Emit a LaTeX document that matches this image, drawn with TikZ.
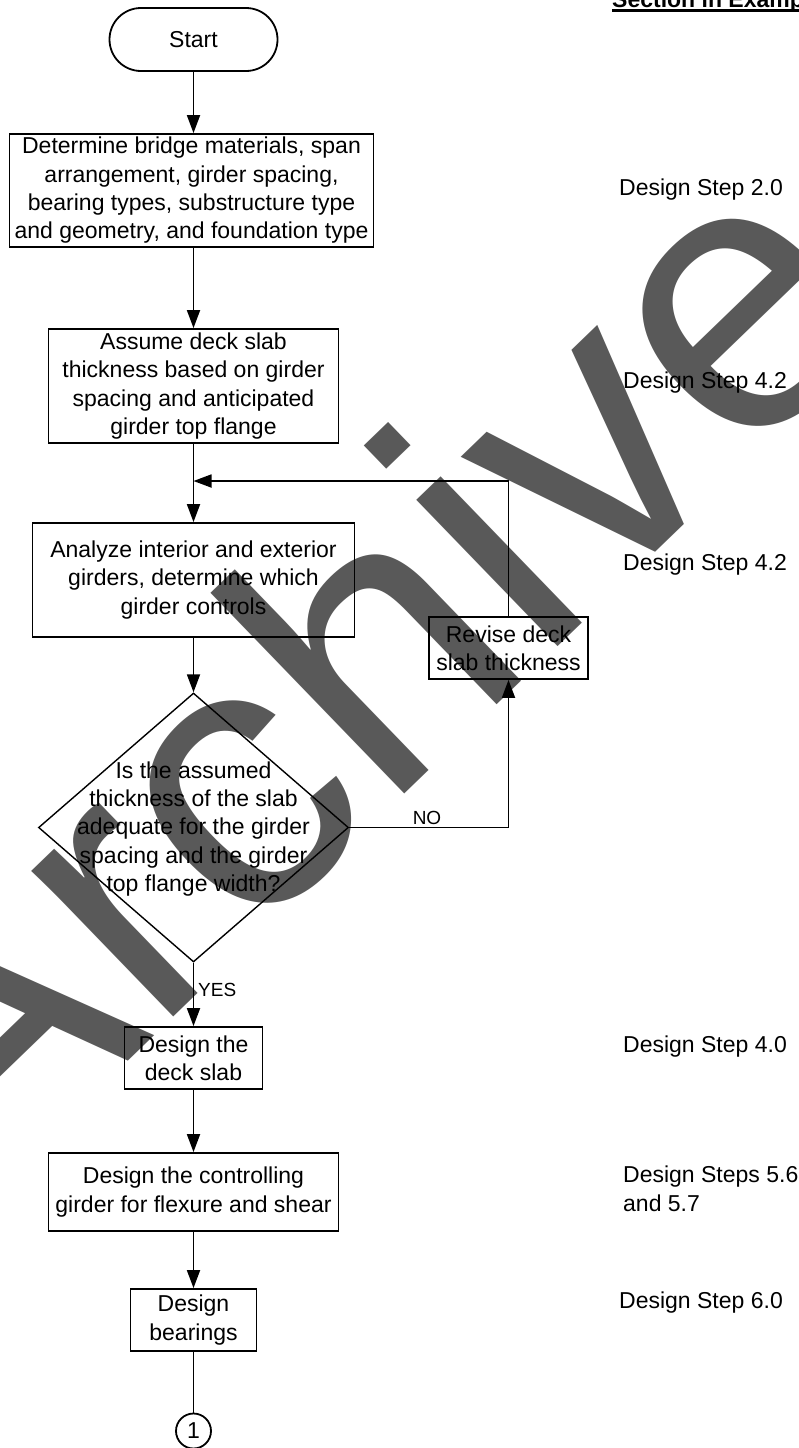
\documentclass[tikz,border=0pt]{standalone}
\usepackage{fontspec}
\setmainfont{Liberation Sans}
\usetikzlibrary{arrows.meta,shapes.misc,shapes.geometric}
\definecolor{wm}{RGB}{89,89,89}
\begin{document}
\begin{tikzpicture}[x=1pt,y=-1pt,
  txt/.style={font=\fontsize{23}{28.3}\selectfont},
  box/.style={draw, line width=1.8pt, align=center, inner sep=0pt, txt},
  conn/.style={line width=1.8pt},
  arr/.style={conn, -{Triangle[length=18pt,width=13pt]}},
  steplabel/.style={anchor=west, inner sep=0pt, align=left, txt},
  smalllab/.style={font=\fontsize{19}{22}\selectfont, inner sep=0pt}]
\useasboundingbox (0,0) rectangle (799,1448);
\fill[white] (0,0) rectangle (799,1448);
\begin{scope}
\clip (0,0) rectangle (799,1448);
% watermark
\node[anchor=base west, inner sep=0pt, rotate=44, text=wm, font=\fontsize{385}{400}\selectfont] (wmark) at (-30,1214) {Archive};
% header
\node[anchor=base west, inner sep=0pt, font=\bfseries\fontsize{23}{28}\selectfont] (hdr) at (612,7.5) {Section in Example};
\draw[line width=2.5pt] ([yshift=-3.2pt]hdr.base west) -- ([yshift=-3.2pt]hdr.base east);
% flowchart nodes
\node[box, rounded rectangle, minimum width=168pt, minimum height=63pt] (start) at (193.5,39.5) {Start};
\node[box, minimum width=364pt, minimum height=113pt] (b1) at (191.5,190.5) {Determine bridge materials, span\\arrangement, girder spacing,\\bearing types, substructure type\\and geometry, and foundation type};
\node[box, minimum width=290pt, minimum height=114pt] (b2) at (193.5,386) {Assume deck slab\\thickness based on girder\\spacing and anticipated\\girder top flange};
\node[box, minimum width=322pt, minimum height=114pt] (b3) at (193.5,580) {Analyze interior and exterior\\girders, determine which\\girder controls};
\node[draw, diamond, line width=1.4pt, minimum width=310pt, minimum height=269pt, inner sep=0pt] (dec) at (193.5,827.5) {};
\node[txt, align=center, inner sep=0pt] (dect) at (193.5,829) {Is the assumed\\thickness of the slab\\adequate for the girder\\spacing and the girder\\top flange width?};
\node[box, minimum width=159pt, minimum height=62pt] (rev) at (508.5,648) {Revise deck\\slab thickness};
\node[box, minimum width=138pt, minimum height=62pt] (b4) at (193.5,1058) {Design the\\deck slab};
\node[box, minimum width=290pt, minimum height=78pt] (b5) at (193.5,1192) {Design the controlling\\girder for flexure and shear};
\node[box, minimum width=126pt, minimum height=62pt] (b6) at (193.5,1320) {Design\\bearings};
\node[box, circle, minimum size=35pt] (c1) at (193.5,1431) {1};
% labels
\node[smalllab] (no) at (427,818) {NO};
\node[smalllab, anchor=west] (yes) at (198,990) {YES};
% right column
\node[steplabel] (s1) at (619,190) {Design Step 2.0};
\node[steplabel] (s2) at (623,383) {Design Step 4.2};
\node[steplabel] (s3) at (623,565) {Design Step 4.2};
\node[steplabel] (s4) at (623,1047) {Design Step 4.0};
\node[steplabel, anchor=north west] (s5) at (623,1166) {Design Steps 5.6\\and 5.7};
\node[steplabel] (s6) at (619,1303) {Design Step 6.0};
% connectors
\coordinate (join) at (193.5,481);
\draw[arr] (start.south) -- (start.south |- b1.north);
\draw[arr] (b2.north |- b1.south) -- (b2.north);
\draw[arr] (b2.south) -- (b3.north);
\draw[arr] (b3.south) -- (dec.north);
\draw[arr] (dec.east) -| (rev.south);
\draw[arr] (rev.north) |- (join);
\draw[arr] (dec.south) -- (b4.north);
\draw[arr] (b4.south) -- (b5.north);
\draw[arr] (b5.south) -- (b6.north);
\draw[conn] (b6.south) -- (c1.north);
\end{scope}
\end{tikzpicture}
\end{document}
